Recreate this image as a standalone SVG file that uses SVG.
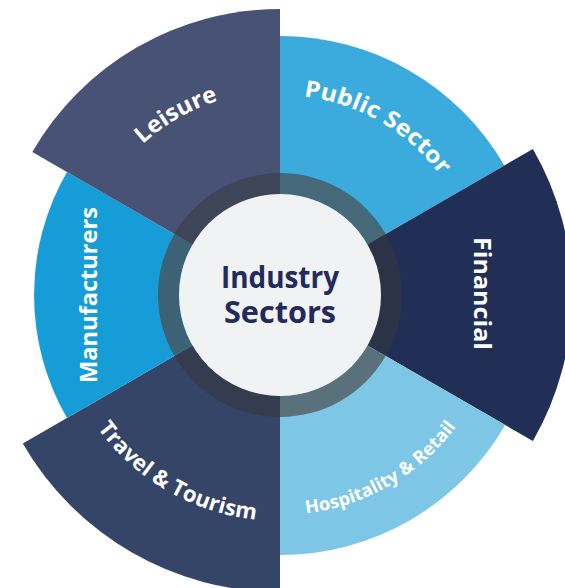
<svg xmlns="http://www.w3.org/2000/svg" xmlns:xlink="http://www.w3.org/1999/xlink" width="565" height="588" viewBox="0 0 565 588">
  <style>
    .lbl { font-family: "Open Sans", "Liberation Sans", sans-serif; font-weight: 700; fill: #ffffff; }
    .ctr { font-family: "Open Sans", "Liberation Sans", sans-serif; font-weight: 700; fill: #232a5c; font-size: 30px; }
  </style>
  <defs>
    <path id="pPublic" d="M211.6,107 A200,200 0 0 1 477,260.3"/>
    <path id="pLeisure" d="M79.1,259.6 A204,204 0 0 1 349.8,103.3"/>
    <path id="pTravel" d="M57.4,334.2 A226,226 0 0 0 357.3,507.4"/>
    <path id="pHosp" d="M204.8,501.7 A220,220 0 0 0 496.7,333.2"/>
  </defs>
  <rect width="565" height="588" fill="#ffffff"/>

  <g id="public-sector">
    <path d="M280,295 L280,36 A259,259 0 0 1 504.3,165.5 Z" fill="#3aabdc"/>
    <path d="M280,173 A122,122 0 0 1 385.65,234 L367.47,244.5 A101,101 0 0 0 280,194 Z" fill="#466979"/>
    <text class="lbl" font-size="23"><textPath xlink:href="#pPublic" href="#pPublic" startOffset="50%" text-anchor="middle" textLength="162" lengthAdjust="spacingAndGlyphs">Public Sector</textPath></text>
  </g>

  <g id="financial">
    <path d="M280,295 L532.9,149 A292,292 0 0 1 532.9,441 Z" fill="#212f57"/>
    <path d="M385.65,234 A122,122 0 0 1 385.65,356 L367.47,345.5 A101,101 0 0 0 367.47,244.5 Z" fill="#2d3346"/>
    <text class="lbl" font-size="23" transform="translate(474,293.5) rotate(90)" text-anchor="middle" textLength="113" lengthAdjust="spacingAndGlyphs">Financial</text>
  </g>

  <g id="hospitality-retail">
    <path d="M280,295 L505.2,425 A260,260 0 0 1 280,555 Z" fill="#7dc6e6"/>
    <path d="M385.65,356 A122,122 0 0 1 280,417 L280,396 A101,101 0 0 0 367.47,345.5 Z" fill="#5a717b"/>
    <text class="lbl" font-size="18"><textPath xlink:href="#pHosp" href="#pHosp" startOffset="50%" text-anchor="middle" textLength="178" lengthAdjust="spacingAndGlyphs">Hospitality &amp; Retail</textPath></text>
  </g>

  <g id="travel-tourism">
    <path d="M280,295 L280,592 A297,297 0 0 1 22.8,443.5 Z" fill="#354567"/>
    <path d="M280,417 A122,122 0 0 1 174.35,356 L192.53,345.5 A101,101 0 0 0 280,396 Z" fill="#363c4f"/>
    <text class="lbl" font-size="22"><textPath xlink:href="#pTravel" href="#pTravel" startOffset="50%" text-anchor="middle" textLength="188" lengthAdjust="spacingAndGlyphs">Travel &amp; Tourism</textPath></text>
  </g>

  <g id="manufacturers">
    <path d="M280,295 L67,418 A246,246 0 0 1 67,172 Z" fill="#169dd8"/>
    <path d="M174.35,356 A122,122 0 0 1 174.35,234 L192.53,244.5 A101,101 0 0 0 192.53,345.5 Z" fill="#3e6275"/>
    <text class="lbl" font-size="23" transform="translate(97,295) rotate(-90)" text-anchor="middle" textLength="176" lengthAdjust="spacingAndGlyphs">Manufacturers</text>
  </g>

  <g id="leisure">
    <path d="M280,295 L32.3,152 A286,286 0 0 1 280,9 Z" fill="#485275"/>
    <path d="M174.35,234 A122,122 0 0 1 280,173 L280,194 A101,101 0 0 0 192.53,244.5 Z" fill="#3f4558"/>
    <text class="lbl" font-size="23"><textPath xlink:href="#pLeisure" href="#pLeisure" startOffset="50%" text-anchor="middle" textLength="88" lengthAdjust="spacingAndGlyphs">Leisure</textPath></text>
  </g>

  <g id="connectors"></g>

  <g id="industry-sectors">
    <circle cx="280" cy="295" r="101" fill="#f1f2f4"/>
    <text class="ctr" x="280" y="288" text-anchor="middle" textLength="118" lengthAdjust="spacingAndGlyphs">Industry</text>
    <text class="ctr" x="280" y="323" text-anchor="middle" textLength="112" lengthAdjust="spacingAndGlyphs">Sectors</text>
  </g>
</svg>
